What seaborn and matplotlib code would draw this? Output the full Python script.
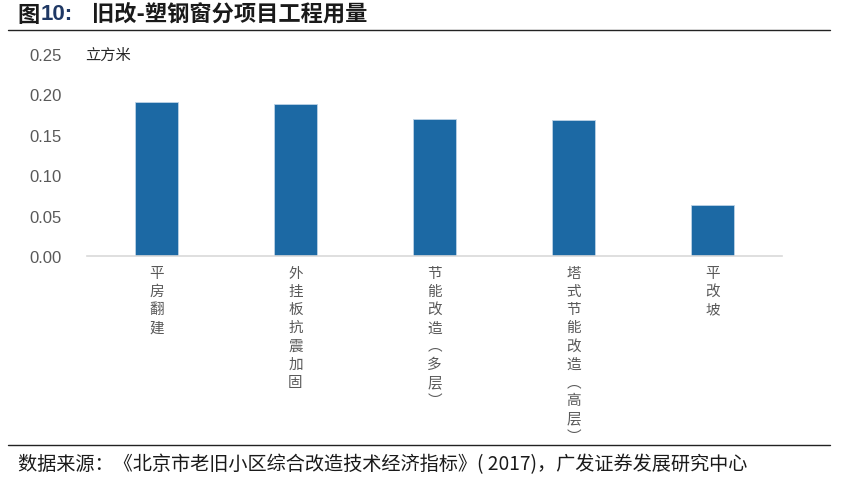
import matplotlib
matplotlib.use("Agg")
import matplotlib.pyplot as plt
import seaborn as sns
import pandas as pd

categories = ["平房翻建", "外挂板抗震加固", "节能改造（多层）", "塔式节能改造（高层）", "平改坡"]
values = [0.190, 0.188, 0.170, 0.168, 0.063]
yticks = [0.00, 0.05, 0.10, 0.15, 0.20, 0.25]

sns.set_theme(style="white")
plt.rcParams['font.family'] = ['Noto Sans CJK SC', 'DejaVu Sans']

def vertical(s):
    s = s.replace("（", "︵").replace("）", "︶")
    return "\n".join(list(s))

df = pd.DataFrame({"cat": [vertical(c) for c in categories], "val": values})

fig = plt.figure(figsize=(8.5, 4.89), dpi=100)
ax = fig.add_axes([87/850, 1-257/489, (782-87)/850, (257-55)/489])

sns.barplot(data=df, x="cat", y="val", color="#1C69A4", width=0.31,
            edgecolor="#BCD3E6", linewidth=0.6, saturation=1, ax=ax)

ax.set_ylim(0, 0.25)
ax.set_xlim(-0.5, 4.5)
ax.set_yticks(yticks)
ax.set_yticklabels([f"{t:.2f}" for t in yticks], fontsize=12, color="#595959",
                   family=['Liberation Sans', 'DejaVu Sans'])
ax.set_xlabel("")
ax.set_ylabel("")
ax.tick_params(axis='x', length=0, pad=7)
ax.tick_params(axis='y', length=0, pad=18)
for lbl in ax.get_xticklabels():
    lbl.set_fontsize(10.5)
    lbl.set_color("#595959")
    lbl.set_linespacing(1.38)
    lbl.set_verticalalignment("top")
for side in ["top", "right", "left"]:
    ax.spines[side].set_visible(False)
ax.spines["bottom"].set_color("#D9D9D9")
ax.spines["bottom"].set_linewidth(1.2)
ax.grid(False)

ax.text(-0.003, 1.0, "立方米", transform=ax.transAxes, fontsize=11, color="#262626",
        ha="left", va="center")

# title
t1 = fig.text(17/850, 1-15/489, "图", fontsize=16, fontweight="bold", color="#1a1a1a",
              ha="left", va="center")
a2 = fig.add_artist(plt.Annotation("10:", xy=(1, 0.5), xycoords=t1, xytext=(1, 0),
                                   textcoords="offset points", fontsize=16, fontweight="bold",
                                   color="#1F3864", ha="left", va="center",
                                   family=['Liberation Sans', 'DejaVu Sans']))
a3 = fig.add_artist(plt.Annotation("旧改-塑钢窗分项目工程用量", xy=(1, 0.5), xycoords=a2,
                                   xytext=(14, 0), textcoords="offset points", fontsize=16,
                                   fontweight="bold", color="#1a1a1a", ha="left", va="center"))

fig.add_artist(plt.Line2D([8/850, 830/850], [1-31/489, 1-31/489], color="#222222", lw=1.0))
fig.add_artist(plt.Line2D([8/850, 830/850], [1-446/489, 1-446/489], color="#222222", lw=1.0))

fig.text(18/850, 1-465/489, "数据来源：《北京市老旧小区综合改造技术经济指标》( 2017)，广发证券发展研究中心",
         fontsize=13.8, color="#1a1a1a", ha="left", va="center")

fig.savefig("out.png", dpi=100)
